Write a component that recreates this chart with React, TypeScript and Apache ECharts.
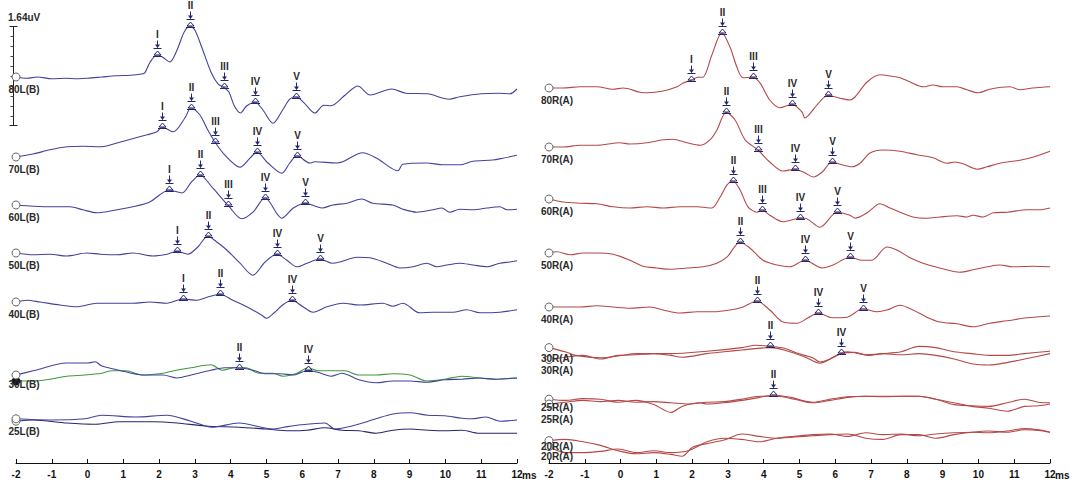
import React, { useEffect, useRef } from 'react';
import * as echarts from 'echarts';

type Pt = [number, number];
type Peak = [string, number];

// ---- time axis (ms) ----
const T_MIN = -2;
const T_MAX = 12;
const T_STEP = 1;

// ---- left ear (B) traces: [latency ms, amplitude µV relative to start level] ----
const trace80L: Pt[] = [[-2,0],[-1.7,-0.02],[-1.4,0],[-1,-0.03],[-0.6,-0.02],[-0.3,-0.03],[0,-0.02],[0.4,0],[0.8,0.02],[1.2,0.03],[1.5,0.05],[1.6,0.07],[1.75,0.25],[1.95,0.37],[2.1,0.33],[2.3,0.25],[2.5,0.45],[2.7,0.75],[2.86,0.85],[3.0,0.78],[3.2,0.48],[3.45,0.08],[3.65,-0.12],[3.8,-0.17],[3.95,-0.25],[4.1,-0.48],[4.27,-0.6],[4.45,-0.48],[4.68,-0.42],[4.9,-0.55],[5.18,-0.77],[5.45,-0.55],[5.65,-0.37],[5.82,-0.33],[6.05,-0.43],[6.35,-0.6],[6.6,-0.47],[6.8,-0.48],[7.2,-0.3],[7.55,-0.15],[7.9,-0.3],[8.5,-0.2],[8.9,-0.27],[9.5,-0.28],[10.1,-0.37],[10.4,-0.33],[11,-0.28],[11.5,-0.27],[11.8,-0.28],[12,-0.2]];
const trace70L: Pt[] = [[-2,0],[-1.52,0.05],[-1.05,0.12],[-0.58,0.17],[-0.13,0.18],[0.35,0.17],[0.63,0.2],[1.1,0.28],[1.66,0.37],[1.94,0.42],[2.08,0.5],[2.39,0.42],[2.72,0.65],[2.89,0.82],[3.14,0.7],[3.36,0.45],[3.56,0.25],[3.84,0.03],[4.26,-0.17],[4.54,-0.02],[4.73,0.08],[5.04,-0.1],[5.43,-0.27],[5.65,-0.1],[5.85,0.02],[6.21,-0.1],[6.35,-0.08],[6.97,-0.1],[7.13,-0.08],[7.69,0.07],[8.08,-0.02],[8.67,-0.23],[8.81,-0.12],[9.48,-0.1],[9.93,-0.13],[10.4,-0.13],[10.77,-0.07],[11.32,-0.05],[11.6,-0.02],[12,0.03]];
const trace60L: Pt[] = [[-2,0],[-1.52,-0.02],[-0.97,-0.03],[-0.49,-0.03],[-0.13,-0.08],[0.26,-0.13],[0.82,-0.08],[1.27,-0.03],[1.74,0.05],[2.02,0.17],[2.27,0.25],[2.64,0.2],[2.9,0.38],[3.14,0.5],[3.5,0.28],[3.92,0],[4.31,-0.23],[4.62,-0.12],[4.96,0.12],[5.43,-0.22],[5.75,-0.05],[6.07,0.03],[6.55,-0.05],[6.85,0],[7.25,0.03],[7.66,0.1],[7.97,0.03],[8.53,0],[8.81,-0.07],[9.2,-0.12],[9.65,-0.08],[9.9,-0.05],[10.12,-0.12],[10.4,-0.07],[10.77,-0.08],[11.16,-0.05],[11.52,-0.03],[11.72,-0.08],[12,-0.07]];
const trace50L: Pt[] = [[-2,0],[-1.52,-0.03],[-1.05,-0.02],[-0.58,-0.05],[-0.02,0],[0.35,-0.02],[0.82,-0.03],[1.27,0],[1.83,-0.05],[2.22,-0.02],[2.5,0.03],[2.8,-0.02],[3.08,0.1],[3.36,0.28],[3.64,0.17],[3.89,0.05],[4.26,-0.17],[4.62,-0.37],[4.96,-0.15],[5.29,-0.02],[5.57,-0.12],[5.85,-0.23],[6.13,-0.17],[6.49,-0.1],[6.83,-0.17],[7.05,-0.15],[7.53,-0.07],[7.89,-0.08],[8.36,-0.17],[8.73,-0.25],[9.09,-0.23],[9.48,-0.17],[9.76,-0.23],[10.04,-0.2],[10.4,-0.17],[10.77,-0.2],[11.16,-0.23],[11.52,-0.17],[11.8,-0.15],[12,-0.13]];
const trace40L: Pt[] = [[-2,0],[-1.69,0.03],[-1.33,0],[-0.77,-0.05],[-0.3,-0.08],[0.26,-0.02],[0.82,-0.02],[1.27,-0.02],[1.74,0],[2.22,-0.02],[2.66,0.05],[3.06,0.03],[3.34,0.08],[3.7,0.13],[4.06,0.03],[4.45,-0.08],[4.87,-0.22],[5.0,-0.27],[5.23,-0.17],[5.45,-0.05],[5.71,0.03],[6.02,-0.08],[6.3,-0.17],[6.69,-0.08],[7.13,-0.02],[7.61,-0.05],[8.25,-0.02],[8.53,-0.07],[8.81,-0.02],[9.28,-0.18],[9.65,-0.17],[10.21,-0.17],[10.6,-0.13],[10.96,-0.18],[11.52,-0.17],[12,-0.13]];
const trace30L_a: Pt[] = [[-2,0.05],[-1.52,0.12],[-0.58,0.25],[0.01,0.25],[0.21,0.27],[0.4,0.2],[0.88,0.13],[1.55,0.05],[2.11,0.05],[2.5,0],[2.89,0.05],[3.45,0.13],[3.84,0.17],[4.23,0.17],[4.62,0.13],[4.99,0.07],[5.38,0.07],[5.77,0.05],[6.16,0.13],[6.52,0.08],[6.8,0.03],[7.11,0.08],[7.58,-0.03],[8.06,-0.08],[8.53,-0.05],[9.01,-0.05],[9.48,-0.07],[9.99,-0.03],[10.46,-0.02],[10.94,0],[11.41,-0.02],[12,0]];
const trace30L_b: Pt[] = [[-2,-0.05],[-1.52,-0.05],[-1.05,-0.02],[-0.58,0.03],[-0.07,0.05],[0.4,0.08],[0.68,0.12],[1.07,0.12],[1.55,0.05],[2.11,0.08],[2.41,0.12],[2.89,0.17],[3.45,0.22],[3.76,0.13],[4.12,0.17],[4.43,0.17],[4.79,0.08],[5.18,0.08],[5.46,0.03],[5.85,0.08],[6.16,0.17],[6.44,0.12],[6.8,0.12],[7.19,0.12],[7.58,0.05],[8.06,0.05],[8.53,0.07],[9.01,0.05],[9.48,-0.05],[9.99,-0.02],[10.46,0.03],[10.94,0],[11.41,-0.02],[12,0]];
const trace25L_a: Pt[] = [[-2,0.02],[-1.05,0],[-0.07,0.02],[0.4,0.08],[1.35,0.05],[2.22,0.08],[2.89,-0.02],[3.47,-0.12],[4.23,-0.05],[5.18,-0.15],[5.49,-0.12],[5.96,-0.08],[6.63,-0.05],[6.91,-0.15],[7.39,-0.1],[8.06,0.02],[8.53,0.1],[9.01,0.12],[9.51,0.08],[9.98,0.07],[10.46,0.03],[10.74,0.02],[11.13,0.05],[11.52,-0.02],[12,0]];
const trace25L_b: Pt[] = [[-2,-0.02],[-1.52,0],[-0.58,-0.05],[0.21,-0.07],[0.88,-0.03],[1.83,-0.03],[2.5,-0.05],[3.28,-0.1],[4.23,-0.12],[4.98,-0.15],[5.65,-0.18],[6.13,-0.17],[6.63,-0.13],[7.11,-0.17],[7.58,-0.18],[8.06,-0.22],[8.53,-0.17],[9.01,-0.15],[9.51,-0.17],[9.98,-0.18],[10.46,-0.17],[10.94,-0.22],[11.41,-0.22],[12,-0.22]];

// ---- right ear (A) traces ----
const trace80R: Pt[] = [[-2,0],[-1.61,0],[-1.13,0.02],[-0.66,0.02],[-0.21,-0.02],[0.07,0],[0.54,-0.07],[0.74,-0.08],[1.19,-0.05],[1.58,0.02],[1.74,0.08],[1.97,0.13],[2.16,0.18],[2.3,0.18],[2.55,0.55],[2.83,0.92],[3.06,0.68],[3.25,0.35],[3.42,0.17],[3.7,0.18],[3.9,0.08],[4.17,-0.2],[4.45,-0.33],[4.79,-0.27],[5.07,-0.4],[5.15,-0.5],[5.49,-0.28],[5.8,-0.12],[6.13,-0.17],[6.41,-0.2],[6.55,-0.15],[6.89,0.1],[7.25,0.22],[7.53,0.2],[7.81,0.17],[8.09,0.1],[8.45,0.02],[8.73,0.05],[9.01,0.02],[9.4,0.02],[9.68,-0.03],[9.99,-0.08],[10.32,-0.02],[10.88,0.02],[11.16,-0.03],[11.52,0],[12,0.02]];
const trace70R: Pt[] = [[-2,0],[-1.61,0],[-1.13,0.03],[-0.66,0.03],[-0.02,0.07],[0.26,0.05],[0.74,0.07],[1.19,0.12],[1.46,0.13],[1.86,0.07],[2.22,0.03],[2.5,0.12],[2.69,0.28],[2.95,0.58],[3.2,0.45],[3.48,0.12],[3.84,-0.05],[4.17,-0.25],[4.54,-0.4],[4.87,-0.37],[5.15,-0.43],[5.38,-0.5],[5.63,-0.42],[5.91,-0.25],[6.21,-0.3],[6.47,-0.33],[6.69,-0.27],[6.97,-0.1],[7.33,-0.05],[7.81,-0.07],[8.28,-0.13],[8.73,-0.18],[9.12,-0.27],[9.34,-0.25],[9.57,-0.28],[9.96,-0.37],[10.24,-0.33],[10.6,-0.27],[11.16,-0.22],[11.52,-0.17],[12,-0.07]];
const trace60R: Pt[] = [[-2,0],[-1.61,-0.05],[-1.13,-0.07],[-0.66,-0.08],[-0.21,-0.13],[0.26,-0.15],[0.74,-0.13],[1.19,-0.15],[1.66,-0.13],[2.14,-0.13],[2.55,-0.15],[2.78,0.03],[2.97,0.23],[3.14,0.3],[3.34,0.15],[3.56,-0.13],[3.81,-0.22],[3.95,-0.18],[4.17,-0.27],[4.54,-0.38],[5.01,-0.32],[5.15,-0.32],[5.57,-0.47],[6.05,-0.22],[6.41,-0.27],[6.55,-0.32],[6.89,-0.23],[7.25,-0.08],[7.53,-0.15],[7.81,-0.22],[8.17,-0.3],[8.56,-0.32],[8.92,-0.3],[9.4,-0.28],[9.68,-0.3],[9.85,-0.27],[10.13,-0.3],[10.41,-0.23],[10.8,-0.22],[11.36,-0.18],[11.72,-0.18],[12,-0.15]];
const trace50R: Pt[] = [[-2,0],[-1.78,0.02],[-1.41,-0.03],[-1.05,0],[-0.66,0],[-0.21,-0.02],[0.26,-0.12],[0.63,-0.22],[1.02,-0.25],[1.38,-0.27],[1.86,-0.25],[2.3,-0.23],[2.69,-0.17],[2.97,-0.07],[3.34,0.18],[3.62,0.08],[3.98,-0.12],[4.37,-0.2],[4.73,-0.23],[5.15,-0.12],[5.63,-0.25],[5.94,-0.2],[6.41,-0.07],[6.75,-0.12],[7.02,-0.12],[7.44,0.1],[7.72,0.05],[8.09,-0.08],[8.45,-0.17],[8.92,-0.25],[9.48,-0.32],[9.85,-0.28],[10.24,-0.23],[10.6,-0.2],[10.96,-0.23],[11.52,-0.22],[12,-0.23]];
const trace40R: Pt[] = [[-2,0],[-1.61,0],[-1.13,0],[-0.66,0.02],[-0.21,0],[0.26,-0.02],[0.82,0],[1.19,-0.05],[1.66,-0.1],[2.14,-0.08],[2.58,-0.08],[3.06,-0.05],[3.42,0],[3.81,0.1],[4.17,-0.05],[4.54,-0.25],[4.93,-0.27],[5.24,-0.18],[5.52,-0.1],[5.91,-0.18],[6.33,-0.17],[6.77,-0.03],[7.16,-0.08],[7.44,-0.05],[7.81,0.03],[8.17,-0.05],[8.56,-0.17],[8.92,-0.25],[9.4,-0.28],[9.85,-0.33],[10.32,-0.27],[10.8,-0.23],[11.36,-0.18],[12,-0.15]];
const trace30R_a: Pt[] = [[-2,0.09],[-1.55,0.02],[-1.25,-0.04],[-0.56,-0.08],[0.04,-0.04],[0.43,-0.01],[1.41,-0.01],[2.41,0.03],[3.39,0.09],[3.78,0.13],[4.17,0.11],[4.57,0.08],[4.97,-0.01],[5.37,-0.08],[5.57,-0.15],[5.85,-0.1],[6.16,0],[6.35,0.02],[6.85,-0.03],[7.33,-0.01],[7.84,0.02],[8.33,0.11],[8.81,0.09],[9.32,0.02],[9.81,-0.01],[10.29,-0.04],[10.8,-0.04],[11.29,-0.01],[12,0.03]];
const trace30R_b: Pt[] = [[-2,-0.11],[-1.55,-0.07],[-1.05,-0.04],[-0.56,-0.1],[-0.07,-0.04],[0.43,-0.03],[0.93,-0.01],[1.41,-0.04],[1.72,-0.07],[2.41,-0.01],[2.89,0.02],[3.39,0.05],[4.17,0.09],[4.57,0.05],[5.17,-0.07],[5.57,-0.17],[5.96,-0.07],[6.16,-0.01],[6.55,0.01],[6.94,-0.04],[7.33,-0.01],[7.84,-0.03],[8.33,-0.01],[8.81,-0.04],[9.32,-0.1],[9.81,-0.18],[10.29,-0.2],[10.8,-0.16],[11.29,-0.1],[12,-0.01]];
const trace25R_a: Pt[] = [[-2,0.03],[-1.55,0.01],[-1.05,0.04],[-0.56,0.03],[-0.07,-0.02],[0.43,0.01],[0.93,-0.06],[1.41,-0.19],[1.72,-0.09],[2.2,-0.03],[2.41,-0.05],[2.89,-0.03],[3.39,0.01],[3.88,0.06],[4.27,0.1],[4.76,0.06],[5.37,-0.02],[5.85,0.03],[6.35,0.07],[6.85,0.08],[7.33,0.08],[7.84,0.08],[8.33,0.08],[8.81,0.03],[9.32,-0.03],[9.81,-0.09],[10.29,-0.12],[10.8,-0.17],[11.29,-0.09],[11.68,-0.08],[12,-0.05]];
const trace25R_b: Pt[] = [[-2,-0.05],[-1.55,-0.02],[-1.05,0.01],[-0.56,-0.01],[-0.07,0.01],[0.43,-0.02],[0.93,-0.01],[1.41,-0.03],[1.9,-0.05],[2.41,-0.02],[2.89,-0.01],[3.39,0.03],[3.88,0.08],[4.37,0.08],[4.86,0.03],[5.37,-0.03],[5.85,0.01],[6.35,0.06],[6.85,0.08],[7.33,0.07],[7.84,0.08],[8.33,0.08],[8.81,0.03],[9.32,-0.06],[9.81,-0.08],[10.29,-0.09],[10.8,-0.03],[11.29,0.03],[11.68,-0.02],[12,-0.03]];
const trace20R_a: Pt[] = [[-2,0.04],[-1.55,0.06],[-1.05,0.02],[-0.56,-0.04],[-0.07,-0.13],[0.43,-0.18],[0.93,-0.16],[1.41,-0.19],[1.72,-0.22],[2.01,-0.07],[2.41,-0.01],[2.89,0.05],[3.39,0.15],[3.88,0.11],[4.37,0.08],[4.86,0.1],[5.37,0.12],[5.85,0.14],[6.35,0.15],[6.85,0.08],[7.33,0.06],[7.84,0.14],[8.33,0.14],[8.81,0.08],[9.32,0.14],[9.81,0.18],[10.29,0.2],[10.8,0.18],[11.29,0.22],[11.68,0.21],[12,0.18]];
const trace20R_b: Pt[] = [[-2,-0.06],[-1.55,-0.16],[-1.05,-0.16],[-0.56,-0.14],[-0.07,-0.1],[0.43,-0.16],[0.93,-0.13],[1.41,-0.16],[1.9,-0.13],[2.41,0.02],[2.89,0.08],[3.39,0.06],[3.88,0.02],[4.37,0.08],[4.86,0.11],[5.37,0.14],[5.85,0.15],[6.35,0.11],[6.85,0.17],[7.33,0.14],[7.84,0.15],[8.33,0.12],[8.81,0.15],[9.32,0.17],[9.81,0.18],[10.29,0.17],[10.8,0.2],[11.29,0.24],[11.68,0.22],[12,0.18]];

// ---- picked waves: [wave, latency ms] ----
const peaks80L: Peak[] = [['I',1.95],['II',2.86],['III',3.8],['IV',4.68],['V',5.82]];
const peaks70L: Peak[] = [['I',2.08],['II',2.89],['III',3.56],['IV',4.73],['V',5.85]];
const peaks60L: Peak[] = [['I',2.27],['II',3.14],['III',3.92],['IV',4.96],['V',6.07]];
const peaks50L: Peak[] = [['I',2.5],['II',3.36],['IV',5.29],['V',6.49]];
const peaks40L: Peak[] = [['I',2.66],['II',3.7],['IV',5.71]];
const peaks30L: Peak[] = [['II',4.23],['IV',6.16]];
const peaks80R: Peak[] = [['I',1.97],['II',2.83],['III',3.7],['IV',4.79],['V',5.8]];
const peaks70R: Peak[] = [['II',2.95],['III',3.84],['IV',4.87],['V',5.91]];
const peaks60R: Peak[] = [['II',3.14],['III',3.95],['IV',5.01],['V',6.05]];
const peaks50R: Peak[] = [['II',3.34],['IV',5.15],['V',6.41]];
const peaks40R: Peak[] = [['II',3.81],['IV',5.52],['V',6.77]];
const peaks30R: Peak[] = [['II',4.17],['IV',6.16]];
const peaks25R: Peak[] = [['II',4.27]];

// ---- calibration ----
const CAL_UV = 1.64;

// ---- layout ----
const W = 1084;
const H = 482;
const PX_PER_UV = 60;
const AXIS_Y = 463;
const GRID_TOP = 7;
const Y_MAX = (AXIS_Y - GRID_TOP) / PX_PER_UV;
const GRIDS = [{ left: 16, width: 501 }, { left: 549, width: 501 }];
// vertical stacking of each recording (screen row of its start level)
const rowLevel = (rowPx: number) => (AXIS_Y - rowPx) / PX_PER_UV;

const BLUE = '#42429e';
const NAVY = '#26266f';
const GREEN = '#3e993e';
const RED = '#b54848';
const MARK = '#26266e';
const TEXT = '#2a2a2a';
const FONT = 'Arial, "Liberation Sans", sans-serif';

interface TraceDef {
  name: string;
  data: Pt[];
  row: number;
  color: string;
  dot?: 'open' | 'filled';
  showName?: boolean;
  nameDy?: number;
  peaks?: Peak[];
}

const leftTraces: TraceDef[] = [
  { name: '80L(B)', data: trace80L, row: 77, color: BLUE, peaks: peaks80L },
  { name: '70L(B)', data: trace70L, row: 157, color: BLUE, peaks: peaks70L },
  { name: '60L(B)', data: trace60L, row: 205, color: BLUE, peaks: peaks60L },
  { name: '50L(B)', data: trace50L, row: 253, color: BLUE, peaks: peaks50L },
  { name: '40L(B)', data: trace40L, row: 302, color: BLUE, peaks: peaks40L },
  { name: '30L(B)', data: trace30L_b, row: 378, color: GREEN, dot: 'filled', showName: false },
  { name: '30L(B)', data: trace30L_a, row: 378, color: BLUE, nameDy: 10, peaks: peaks30L },
  { name: '25L(B)', data: trace25L_b, row: 420, color: NAVY, showName: false },
  { name: '25L(B)', data: trace25L_a, row: 420, color: BLUE },
];

const rightTraces: TraceDef[] = [
  { name: '80R(A)', data: trace80R, row: 88, color: RED, peaks: peaks80R },
  { name: '70R(A)', data: trace70R, row: 147, color: RED, peaks: peaks70R },
  { name: '60R(A)', data: trace60R, row: 199, color: RED, peaks: peaks60R },
  { name: '50R(A)', data: trace50R, row: 253, color: RED, peaks: peaks50R },
  { name: '40R(A)', data: trace40R, row: 307, color: RED, peaks: peaks40R },
  { name: '30R(A)', data: trace30R_a, row: 353, color: RED, nameDy: 11, peaks: peaks30R },
  { name: '30R(A)', data: trace30R_b, row: 353, color: RED, nameDy: 11 },
  { name: '25R(A)', data: trace25R_a, row: 401, color: RED, nameDy: 9, peaks: peaks25R },
  { name: '25R(A)', data: trace25R_b, row: 401, color: RED, nameDy: 16 },
  { name: '20R(A)', data: trace20R_a, row: 443, color: RED, nameDy: 6 },
  { name: '20R(A)', data: trace20R_b, row: 443, color: RED, nameDy: 10 },
];

function valueAt(data: Pt[], t: number): number {
  for (let i = 0; i < data.length - 1; i++) {
    const [t0, v0] = data[i];
    const [t1, v1] = data[i + 1];
    if (t >= t0 && t <= t1) return t1 === t0 ? v0 : v0 + ((t - t0) / (t1 - t0)) * (v1 - v0);
  }
  return data[data.length - 1][1];
}

function traceSeries(tr: TraceDef, gridIndex: number): any {
  const level = rowLevel(tr.row);
  const filled = tr.dot === 'filled';
  const data: any[] = tr.data.map(([t, v], i) => {
    if (i > 0) return [t, level + v];
    return {
      value: [t, level + v],
      symbol: 'circle',
      symbolSize: 8,
      itemStyle: filled
        ? { color: '#111', borderColor: '#111', borderWidth: 1 }
        : { color: '#fff', borderColor: '#666', borderWidth: 1 },
      label: {
        show: tr.showName !== false,
        formatter: tr.name,
        position: 'bottom',
        distance: (tr.nameDy ?? 13) - 10,
        offset: [8, 0],
        color: TEXT,
        fontFamily: FONT,
        fontWeight: 'bold',
        fontSize: 10,
      },
    };
  });
  return {
    type: 'line',
    xAxisIndex: gridIndex,
    yAxisIndex: gridIndex,
    data,
    symbol: 'none',
    showSymbol: true,
    showAllSymbol: true,
    smooth: 0.3,
    clip: false,
    silent: true,
    lineStyle: { color: tr.color, width: 1.1 },
    z: 3,
  };
}

function markerSeries(traces: TraceDef[], gridIndex: number): any {
  const items: { t: number; y: number; label: string }[] = [];
  traces.forEach((tr) => {
    (tr.peaks || []).forEach(([label, t]) => {
      items.push({ t, y: rowLevel(tr.row) + valueAt(tr.data, t), label });
    });
  });
  return {
    type: 'custom',
    xAxisIndex: gridIndex,
    yAxisIndex: gridIndex,
    data: items.map((m) => [m.t, m.y]),
    silent: true,
    z: 5,
    renderItem: (params: any, api: any) => {
      const p = api.coord([api.value(0), api.value(1)]);
      const x = Math.round(p[0]) + 0.5;
      const y = Math.round(p[1]) + 0.5;
      const label = items[params.dataIndex].label;
      return {
        type: 'group',
        children: [
          {
            type: 'text',
            x,
            y: y - 21,
            style: { text: label, fill: TEXT, font: `bold 10px ${FONT}`, align: 'center', verticalAlign: 'middle' },
          },
          { type: 'line', shape: { x1: x, y1: y - 15, x2: x, y2: y - 8 }, style: { stroke: MARK, lineWidth: 1 } },
          { type: 'polygon', shape: { points: [[x - 2.5, y - 11], [x + 2.5, y - 11], [x, y - 7.5]] }, style: { fill: MARK } },
          { type: 'line', shape: { x1: x - 4, y1: y - 7, x2: x + 4, y2: y - 7 }, style: { stroke: MARK, lineWidth: 1 } },
          {
            type: 'polygon',
            shape: { points: [[x - 3.5, y - 0.5], [x + 3.5, y - 0.5], [x, y - 4.5]] },
            style: { fill: 'rgba(255,255,255,0.6)', stroke: MARK, lineWidth: 1 },
          },
          { type: 'line', shape: { x1: x - 4.5, y1: y + 1, x2: x + 4.5, y2: y + 1 }, style: { stroke: MARK, lineWidth: 1 } },
        ],
      };
    },
  };
}

function xAxis(gridIndex: number): any {
  return {
    type: 'value',
    gridIndex,
    min: T_MIN,
    max: T_MAX,
    interval: T_STEP,
    axisLine: { show: true, onZero: false, lineStyle: { color: '#111', width: 1 } },
    axisTick: { show: true, inside: true, length: 4, lineStyle: { color: '#111' } },
    splitLine: { show: false },
    axisLabel: { color: '#111', fontFamily: FONT, fontWeight: 'bold', fontSize: 10, margin: 6 },
    name: 'ms',
    nameLocation: 'end',
    nameGap: 5,
    nameMoveOverlap: false,
    nameTextStyle: {
      color: '#111',
      fontFamily: FONT,
      fontWeight: 'bold',
      fontSize: 10,
      align: 'left',
      verticalAlign: 'top',
      padding: [7, 0, 0, 0],
    },
  };
}

function yAxis(gridIndex: number): any {
  return { type: 'value', gridIndex, min: 0, max: Y_MAX, show: false };
}

function calibrationBar(): any[] {
  const x = 13.5;
  const yMid = 75.5;
  const len = CAL_UV * PX_PER_UV;
  const top = Math.round(yMid - len / 2) + 0.5;
  const bottom = Math.round(yMid + len / 2) + 0.5;
  const els: any[] = [
    { type: 'text', left: 8, top: 12, style: { text: `${CAL_UV}uV`, fill: TEXT, font: `bold 10px ${FONT}` } },
    { type: 'line', shape: { x1: x, y1: top, x2: x, y2: bottom }, style: { stroke: '#222', lineWidth: 1 } },
    { type: 'line', shape: { x1: x - 4, y1: top, x2: x + 4, y2: top }, style: { stroke: '#222', lineWidth: 1 } },
    { type: 'line', shape: { x1: x - 4, y1: bottom, x2: x + 4, y2: bottom }, style: { stroke: '#222', lineWidth: 1 } },
  ];
  for (let i = 1; i < 10; i++) {
    const ty = Math.round(top + ((bottom - top) * i) / 10) + 0.5;
    els.push({ type: 'line', shape: { x1: x - 3, y1: ty, x2: x, y2: ty }, style: { stroke: '#444', lineWidth: 1 } });
  }
  return els;
}

export default function App() {
  const ref = useRef<HTMLDivElement>(null);
  useEffect(() => {
    if (!ref.current) return;
    const chart = echarts.init(ref.current, undefined, { renderer: 'svg' });
    chart.setOption({
      animation: false,
      backgroundColor: '#fff',
      grid: GRIDS.map((g) => ({ left: g.left, width: g.width, top: GRID_TOP, height: AXIS_Y - GRID_TOP, containLabel: false })),
      xAxis: [xAxis(0), xAxis(1)],
      yAxis: [yAxis(0), yAxis(1)],
      series: [
        ...leftTraces.map((tr) => traceSeries(tr, 0)),
        ...rightTraces.map((tr) => traceSeries(tr, 1)),
        markerSeries(leftTraces, 0),
        markerSeries(rightTraces, 1),
      ],
      graphic: calibrationBar(),
    });
    return () => chart.dispose();
  }, []);
  return <div ref={ref} style={{ position: 'absolute', left: 0, top: 0, width: W, height: H }} />;
}
